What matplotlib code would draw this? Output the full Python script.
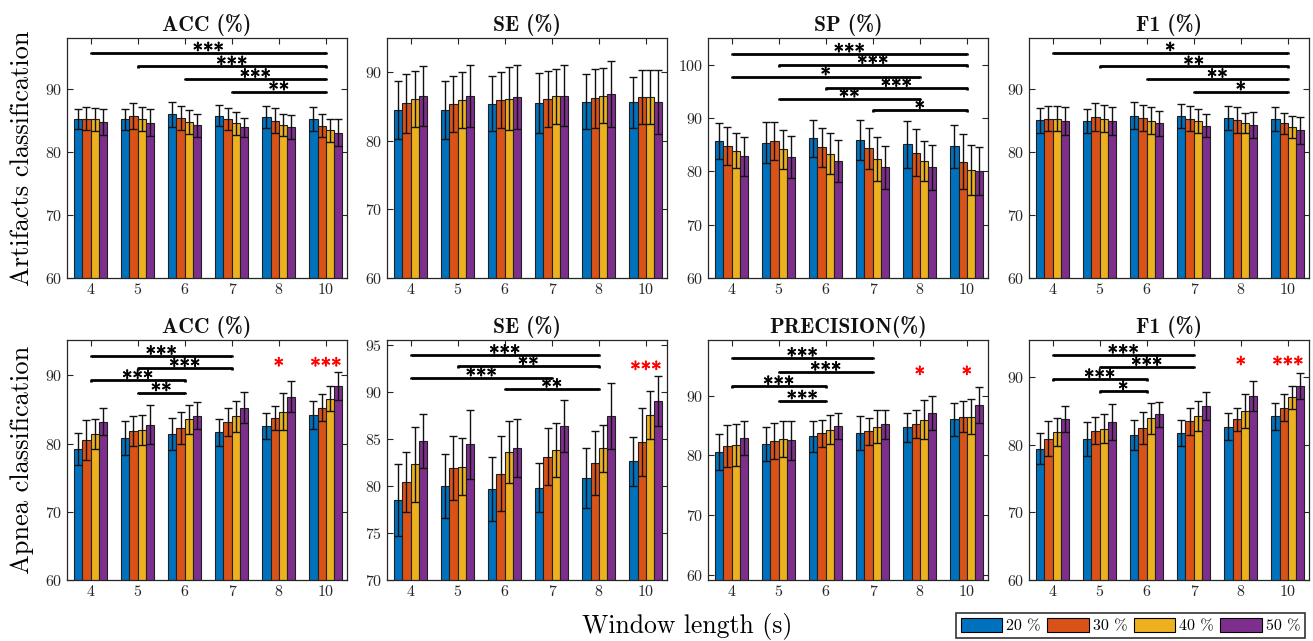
import numpy as np
import matplotlib
matplotlib.use("Agg")
import matplotlib.pyplot as plt
import matplotlib.patheffects as pe
from matplotlib.patches import Patch

plt.rcParams['font.family'] = 'cmr10'
plt.rcParams['mathtext.fontset'] = 'cm'
plt.rcParams['axes.unicode_minus'] = False
plt.rcParams['axes.formatter.use_mathtext'] = True

# ---------------- data ----------------
window_labels = ["4", "5", "6", "7", "8", "10"]
overlap_labels = ["20 %", "30 %", "40 %", "50 %"]
colors = ["#0072BD", "#D95319", "#EDB120", "#7E2F8E"]

# Artifacts classification
art_acc_mean = [[85.2, 85.1, 85.9, 85.7, 85.5, 85.2],
                [85.2, 85.6, 85.3, 85.2, 84.9, 84.1],
                [85.1, 85.2, 84.7, 84.5, 84.2, 83.4],
                [84.7, 84.6, 84.2, 83.85, 83.9, 83.0]]
art_acc_err = [[1.6, 1.7, 2.0, 1.65, 1.7, 1.85],
               [1.8, 2.05, 1.9, 1.75, 2.0, 1.85],
               [1.8, 1.9, 1.95, 1.85, 1.7, 1.85],
               [2.05, 2.1, 1.8, 1.55, 1.9, 2.1]]

art_se_mean = [[84.5, 84.5, 85.4, 85.5, 85.7, 85.6],
               [85.5, 85.4, 85.95, 86.1, 86.2, 86.4],
               [86.1, 86.0, 86.15, 86.5, 86.6, 86.4],
               [86.5, 86.5, 86.4, 86.6, 86.8, 85.7]]
art_se_err = [[4.3, 4.3, 4.0, 4.4, 4.0, 3.7],
              [4.3, 4.1, 4.05, 4.1, 4.3, 4.0],
              [4.1, 4.1, 4.6, 4.0, 4.0, 4.0],
              [4.4, 4.5, 4.6, 4.4, 4.8, 4.7]]

art_sp_mean = [[85.7, 85.4, 86.2, 85.9, 85.05, 84.7],
               [84.8, 85.7, 84.5, 84.3, 83.5, 81.8],
               [83.9, 84.1, 83.3, 82.3, 81.9, 80.25],
               [82.8, 82.7, 81.9, 80.75, 80.75, 80.1]]
art_sp_err = [[3.3, 3.9, 3.5, 3.7, 4.35, 4.05],
              [3.6, 3.6, 3.6, 3.9, 4.35, 5.2],
              [3.3, 3.6, 3.8, 4.2, 3.8, 4.65],
              [3.6, 4.0, 3.9, 4.0, 4.25, 4.45]]

art_f1_mean = [[84.97, 84.9, 85.7, 85.6, 85.4, 85.2],
               [85.2, 85.5, 85.3, 85.2, 85.0, 84.5],
               [85.2, 85.2, 84.9, 84.8, 84.55, 83.9],
               [84.9, 84.8, 84.5, 84.1, 84.2, 83.4]]
art_f1_err = [[2.0, 1.9, 2.1, 1.9, 1.9, 1.85],
              [2.0, 2.2, 2.1, 2.0, 2.0, 1.7],
              [2.0, 2.15, 2.1, 1.9, 1.65, 1.7],
              [2.2, 2.2, 2.0, 1.8, 2.1, 2.15]]

# Apnea classification
apn_acc_mean = [[79.2, 80.8, 81.4, 81.65, 82.6, 84.2],
                [80.5, 81.8, 82.3, 83.15, 83.7, 85.3],
                [81.4, 82.05, 83.55, 84.0, 84.7, 86.6],
                [83.2, 82.8, 84.1, 85.3, 86.9, 88.4]]
apn_acc_err = [[2.35, 2.5, 2.3, 1.95, 1.85, 2.05],
               [2.9, 2.2, 2.3, 2.05, 1.75, 1.95],
               [2.15, 2.2, 2.15, 2.3, 2.7, 1.85],
               [2.0, 2.8, 1.95, 2.25, 2.3, 2.05]]

apn_se_mean = [[78.5, 80.0, 79.7, 79.8, 80.8, 82.6],
               [80.4, 81.85, 81.3, 83.1, 82.45, 84.65],
               [82.3, 82.05, 83.6, 83.8, 84.0, 87.55],
               [84.75, 84.4, 84.0, 86.4, 87.4, 89.0]]
apn_se_err = [[3.85, 3.4, 3.4, 2.6, 3.2, 2.6],
              [3.2, 3.4, 3.95, 3.0, 3.4, 3.6],
              [4.0, 3.05, 3.3, 2.9, 2.5, 2.55],
              [2.9, 3.7, 3.1, 2.75, 3.5, 2.65]]

apn_pr_mean = [[80.5, 81.9, 83.15, 83.7, 84.65, 86.0],
               [81.5, 82.4, 83.65, 84.0, 85.2, 86.45],
               [81.7, 82.75, 84.3, 84.75, 85.95, 86.45],
               [82.9, 82.5, 84.9, 85.15, 87.05, 88.45]]
apn_pr_err = [[3.05, 2.9, 2.55, 2.85, 2.45, 2.8],
              [3.5, 2.95, 2.3, 2.3, 2.35, 2.6],
              [3.55, 3.0, 2.45, 2.75, 3.3, 2.9],
              [2.9, 3.3, 2.2, 2.35, 2.85, 3.0]]

apn_f1_mean = [[79.45, 80.9, 81.4, 81.7, 82.65, 84.2],
               [80.9, 82.1, 82.45, 83.5, 83.75, 85.45],
               [81.85, 82.4, 83.9, 84.3, 84.95, 87.0],
               [83.8, 83.35, 84.5, 85.75, 87.25, 88.7]]
apn_f1_err = [[2.35, 2.5, 2.2, 1.9, 2.0, 2.05],
              [2.55, 1.95, 2.4, 2.0, 1.75, 2.0],
              [2.1, 2.1, 2.25, 2.2, 2.5, 1.7],
              [1.9, 2.65, 1.9, 2.1, 2.25, 1.95]]

# significance brackets: (first group, last group, height, stars)
art_acc_sig = [(1, 6, 95.7, "***"), (2, 6, 93.5, "***"), (3, 6, 91.5, "***"), (4, 6, 89.5, "**")]
art_se_sig = []
art_sp_sig = [(1, 6, 102.05, "***"), (2, 6, 99.9, "***"), (1, 5, 97.75, "*"),
              (3, 6, 95.6, "***"), (2, 5, 93.6, "**"), (4, 6, 91.45, "*")]
art_f1_sig = [(1, 6, 95.7, "*"), (2, 6, 93.5, "**"), (3, 6, 91.5, "**"), (4, 6, 89.5, "*")]
apn_acc_sig = [(1, 4, 92.85, "***"), (2, 4, 91.05, "***"), (1, 3, 89.3, "***"), (2, 3, 87.5, "**")]
apn_se_sig = [(1, 5, 93.9, "***"), (2, 5, 92.7, "**"), (1, 4, 91.5, "***"), (3, 5, 90.3, "**")]
apn_pr_sig = [(1, 4, 96.3, "***"), (2, 4, 93.95, "***"), (1, 3, 91.55, "***"), (2, 3, 89.15, "***")]
apn_f1_sig = [(1, 4, 93.3, "***"), (2, 4, 91.5, "***"), (1, 3, 89.7, "***"), (2, 3, 87.9, "*")]

# red stars: (group, height, stars)
apn_acc_red = [(5, 92.0, "*"), (6, 92.0, "***")]
apn_se_red = [(6, 92.8, "***")]
apn_pr_red = [(5, 94.2, "*"), (6, 94.2, "*")]
apn_f1_red = [(5, 92.45, "*"), (6, 92.45, "***")]

panels = [
    ("ACC (%)", art_acc_mean, art_acc_err, art_acc_sig, [], (60, 98), [60, 70, 80, 90]),
    ("SE (%)", art_se_mean, art_se_err, art_se_sig, [], (60, 95), [60, 70, 80, 90]),
    ("SP (%)", art_sp_mean, art_sp_err, art_sp_sig, [], (60, 105), [60, 70, 80, 90, 100]),
    ("F1 (%)", art_f1_mean, art_f1_err, art_f1_sig, [], (60, 98), [60, 70, 80, 90]),
    ("ACC (%)", apn_acc_mean, apn_acc_err, apn_acc_sig, apn_acc_red, (60, 95.2), [60, 70, 80, 90]),
    ("SE (%)", apn_se_mean, apn_se_err, apn_se_sig, apn_se_red, (70, 95.5), [70, 75, 80, 85, 90, 95]),
    ("PRECISION(%)", apn_pr_mean, apn_pr_err, apn_pr_sig, apn_pr_red, (59.1, 99.3), [60, 70, 80, 90]),
    ("F1 (%)", apn_f1_mean, apn_f1_err, apn_f1_sig, apn_f1_red, (60, 95.5), [60, 70, 80, 90]),
]

# ---------------- layout ----------------
W, H = 1313, 641
fig = plt.figure(figsize=(W / 100, H / 100), dpi=100)
lefts = [67, 387, 708, 1029]
tops = [38, 340]
aw, ah = 280, 240

x = np.arange(1, 7)
bw = 0.175
offsets = (np.arange(4) - 1.5) * bw
axis_col = "#262626"
star_fs = 15
# the cmr10 asterisk sits about 0.53 em above the baseline
star_mid = 0.53 * star_fs

axes = []
for i, (title, means, errs, sigs, reds, ylim, yticks) in enumerate(panels):
    r, c = divmod(i, 4)
    ax = fig.add_axes([lefts[c] / W, 1 - (tops[r] + ah) / H, aw / W, ah / H])
    for k in range(4):
        ax.bar(x + offsets[k], means[k], width=bw, color=colors[k],
               edgecolor="#202020", linewidth=0.8, zorder=2)
        ax.errorbar(x + offsets[k], means[k], yerr=errs[k], fmt="none",
                    ecolor="#111111", elinewidth=1.0, capsize=3.0, capthick=1.0, zorder=3)
    drop = (ylim[1] - ylim[0]) * 0.006
    for g0, g1, h, s in sigs:
        ax.plot([x[g0 - 1], x[g0 - 1], x[g1 - 1], x[g1 - 1]], [h - drop, h, h, h - drop],
                color="black", lw=2.0, solid_capstyle="butt", zorder=4)
        t = ax.annotate(s, ((x[g0 - 1] + x[g1 - 1]) / 2, h), xytext=(0, 4.3 - star_mid),
                        textcoords="offset points", ha="center", va="baseline",
                        fontsize=star_fs, color="black", zorder=5)
        t.set_path_effects([pe.withStroke(linewidth=0.6, foreground="black")])
    for g, h, s in reds:
        t = ax.annotate(s, (x[g - 1], h), xytext=(0, -star_mid), textcoords="offset points",
                        ha="center", va="baseline", fontsize=star_fs, color="red", zorder=5)
        t.set_path_effects([pe.withStroke(linewidth=0.6, foreground="red")])
    ax.set_xlim(0.5, 6.45)
    ax.set_ylim(*ylim)
    ax.set_yticks(yticks)
    ax.set_xticks(x)
    ax.set_xticklabels(window_labels)
    ax.tick_params(direction="in", top=True, right=True, length=4, width=0.8,
                   labelsize=11.5, color=axis_col, labelcolor=axis_col)
    for sp in ax.spines.values():
        sp.set_color(axis_col)
        sp.set_linewidth(0.9)
    ax.set_title(title, fontsize=15.5, family="cmb10", pad=5, color="#111111")
    axes.append(ax)

fig.text(22 / W, 1 - 158 / H, "Artifacts classification", rotation=90,
         ha="center", va="center", fontsize=19)
fig.text(22 / W, 1 - 460 / H, "Apnea classification", rotation=90,
         ha="center", va="center", fontsize=19)
fig.text(687 / W, 1 - 627 / H, "Window length (s)", ha="center", va="center", fontsize=18.5)

handles = [Patch(facecolor=c, edgecolor="black", linewidth=0.8) for c in colors]
leg = fig.legend(handles, overlap_labels, ncol=4, loc="lower right",
                 bbox_to_anchor=(1305 / W, 3 / H), frameon=True, fancybox=False,
                 edgecolor="black", handlelength=2.6, handleheight=1.0,
                 handletextpad=0.25, columnspacing=0.4, borderpad=0.3, fontsize=11.5,
                 borderaxespad=0)
leg.get_frame().set_linewidth(1.2)

fig.savefig("out.png", dpi=100)
